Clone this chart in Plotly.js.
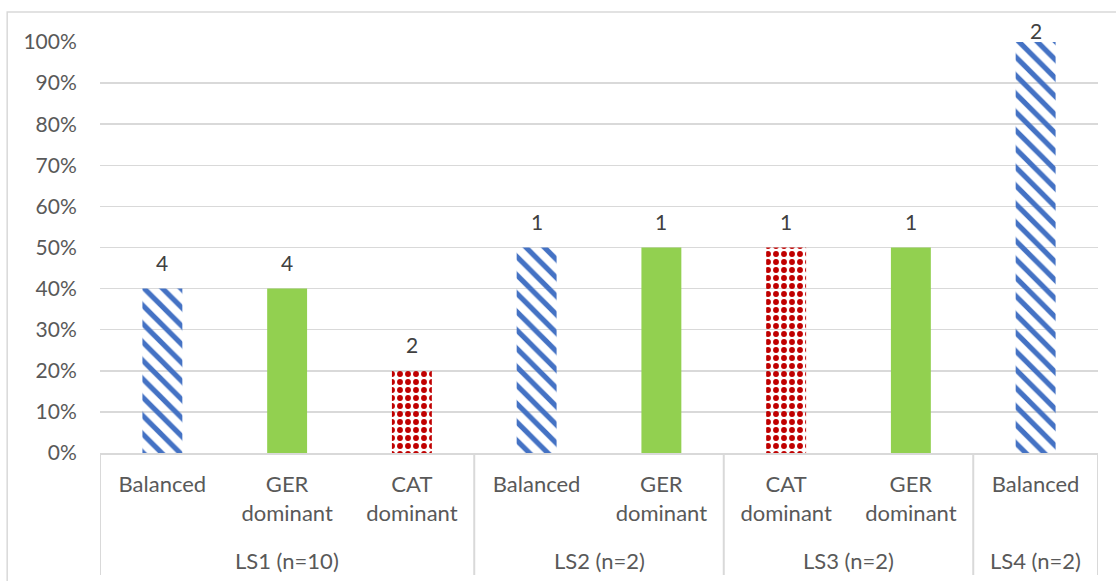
<!DOCTYPE html>
<html>
<head>
<meta charset="utf-8">
<script src="https://cdn.plot.ly/plotly-3.0.1.min.js"></script>
<style>
  html, body { margin: 0; padding: 0; background: #ffffff; }
  #chart { width: 1116px; height: 581px; }
</style>
</head>
<body>
<div id="chart"></div>
<script>
// Language-profile shares per learner setting (bar labels show raw counts)
const settings = ['LS1 (n=10)', 'LS1 (n=10)', 'LS1 (n=10)', 'LS2 (n=2)', 'LS2 (n=2)', 'LS3 (n=2)', 'LS3 (n=2)', 'LS4 (n=2)'];
const profiles = ['Balanced', 'GER<br>dominant', 'CAT<br>dominant', 'Balanced', 'GER<br>dominant', 'CAT<br>dominant', 'GER<br>dominant', 'Balanced'];
const counts = [4, 4, 2, 1, 1, 1, 1, 2];
const groupSizes = [10, 10, 10, 2, 2, 2, 2, 2];
const yTickVals = [0, 0.1, 0.2, 0.3, 0.4, 0.5, 0.6, 0.7, 0.8, 0.9, 1.0];

const shares = counts.map((c, i) => c / groupSizes[i]);
const positions = profiles.map((_, i) => i);

// Fill style per profile
const BLUE = '#4472C4', GREEN = '#92D050', RED = '#C00000';
function profileKey(p) { return p.split('<br>')[0]; }
const style = {
  'Balanced': { color: BLUE, shape: '\\', fg: BLUE, bg: '#ffffff', size: 13, sol: 0.4 },
  'GER':      { color: GREEN, shape: '', fg: GREEN, bg: GREEN, size: 8, sol: 0.3 },
  'CAT':      { color: RED, shape: '.', fg: '#ffffff', bg: RED, size: 8, sol: 0.42 }
};
const st = profiles.map(p => style[profileKey(p)]);

const FONT = 'Lato, "Open Sans", sans-serif';
const GRID = '#d9d9d9';
const TXT = '#595959';

// Plot-area geometry (px) used to place the two-level axis decorations
const PLOT_H = 581 - 42 - 128;

const trace = {
  type: 'bar',
  x: positions,
  y: shares,
  width: 0.32,
  marker: {
    color: st.map(s => s.color),
    line: { width: 0 },
    pattern: {
      shape: st.map(s => s.shape),
      fgcolor: st.map(s => s.fg),
      bgcolor: st.map(s => s.bg),
      size: st.map(s => s.size),
      solidity: st.map(s => s.sol),
      fillmode: 'replace'
    }
  },
  hoverinfo: 'skip'
};

// Count labels above each bar (kept below the top edge of the chart area)
const annotations = counts.map((c, i) => ({
  x: positions[i], y: shares[i], xref: 'x', yref: 'y',
  text: String(c), showarrow: false,
  yanchor: 'middle', yshift: Math.min(26, 12 + (1 - shares[i]) * PLOT_H),
  font: { family: FONT, size: 21, color: '#404040' }
}));

// Group (setting) labels and dividers between groups
const groups = [];
settings.forEach((g, i) => {
  const last = groups[groups.length - 1];
  if (last && last.name === g) last.end = i;
  else groups.push({ name: g, start: i, end: i });
});
const groupLabelY = -(560 - 453) / PLOT_H;
const dividerBottom = -(575 - 453) / PLOT_H;
groups.forEach(g => {
  annotations.push({
    x: (g.start + g.end) / 2, y: groupLabelY, xref: 'x', yref: 'paper',
    text: g.name, showarrow: false, yanchor: 'middle',
    font: { family: FONT, size: 22, color: TXT }
  });
});
const dividerXs = [-0.5].concat(groups.map(g => g.end + 0.5));
const shapes = dividerXs.map(x => ({
  type: 'line', xref: 'x', yref: 'paper',
  x0: x, x1: x, y0: 0, y1: dividerBottom,
  line: { color: GRID, width: 2 }
}));

// Outer chart frame
shapes.push({
  type: 'rect', xref: 'paper', yref: 'paper',
  x0: -0.093, x1: 1.06, y0: -0.36, y1: 1.073,
  line: { color: GRID, width: 1.5 }, fillcolor: 'rgba(0,0,0,0)', layer: 'below'
});

const layout = {
  width: 1116, height: 581,
  margin: { l: 100, r: 18, t: 42, b: 128 },
  paper_bgcolor: '#ffffff', plot_bgcolor: '#ffffff',
  showlegend: false,
  font: { family: FONT, size: 21, color: TXT },
  xaxis: {
    range: [-0.5, profiles.length - 0.5],
    tickvals: positions,
    ticktext: profiles,
    showline: true, linecolor: GRID, linewidth: 2,
    showgrid: false, zeroline: false,
    ticks: 'outside', ticklen: 11, tickcolor: 'rgba(0,0,0,0)',
    tickfont: { family: FONT, size: 22, color: TXT },
    fixedrange: true
  },
  yaxis: {
    range: [0, 1],
    tickvals: yTickVals,
    tickformat: '.0%',
    showline: false, zeroline: false,
    showgrid: true, gridcolor: GRID, gridwidth: 1.5,
    ticks: 'outside', ticklen: 18, tickcolor: 'rgba(0,0,0,0)',
    tickfont: { family: FONT, size: 21, color: TXT },
    fixedrange: true
  },
  annotations: annotations,
  shapes: shapes
};

Plotly.newPlot('chart', [trace], layout, { displayModeBar: false, staticPlot: true });
</script>
</body>
</html>
